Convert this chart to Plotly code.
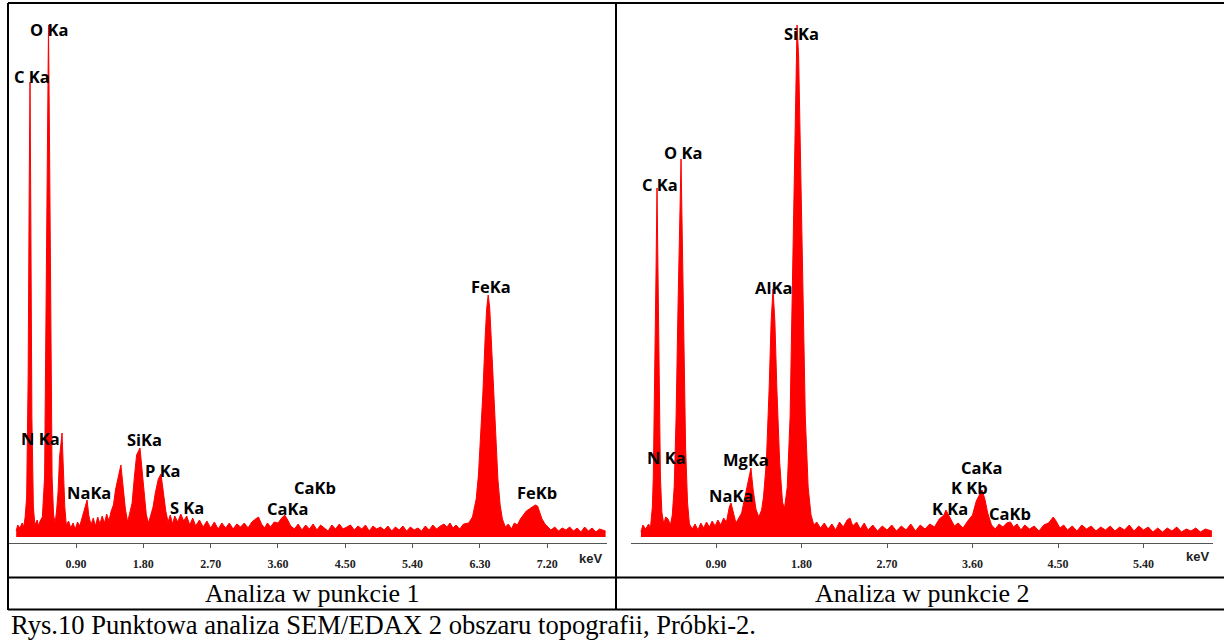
import plotly.graph_objects as go

W, H = 1224, 640

# ---------------- data ----------------
# Spectrum 1 (Analiza w punkcie 1): energy [keV] / intensity [a.u.]
energy_p1 = [0.10, 0.12, 0.15, 0.18, 0.20, 0.22, 0.24, 0.26, 0.275, 0.285, 0.295, 0.31, 0.33, 0.35, 0.38, 0.40,
             0.42, 0.45, 0.48, 0.505, 0.52, 0.532, 0.545, 0.56, 0.58, 0.60, 0.62, 0.64, 0.66, 0.68, 0.695, 0.713,
             0.73, 0.75, 0.77, 0.80, 0.83, 0.86, 0.89, 0.92, 0.95, 0.98, 1.01, 1.048, 1.07, 1.10, 1.13, 1.16,
             1.19, 1.22, 1.25, 1.28, 1.31, 1.34, 1.37, 1.40, 1.43, 1.46, 1.50, 1.53, 1.56, 1.59, 1.62, 1.65,
             1.68, 1.71, 1.755, 1.78, 1.81, 1.84, 1.87, 1.90, 1.93, 1.96, 2.00, 2.036, 2.07, 2.10, 2.13, 2.16,
             2.19, 2.22, 2.26, 2.30, 2.34, 2.38, 2.42, 2.46, 2.50, 2.55, 2.60, 2.65, 2.70, 2.75, 2.80, 2.85,
             2.90, 2.95, 3.00, 3.05, 3.10, 3.15, 3.20, 3.25, 3.30, 3.34, 3.38, 3.42, 3.46, 3.50, 3.55, 3.60,
             3.65, 3.69, 3.73, 3.77, 3.82, 3.87, 3.92, 3.97, 4.02, 4.07, 4.12, 4.17, 4.22, 4.27, 4.32, 4.37,
             4.42, 4.47, 4.52, 4.57, 4.62, 4.67, 4.72, 4.77, 4.82, 4.87, 4.92, 4.97, 5.02, 5.07, 5.12, 5.17,
             5.22, 5.27, 5.32, 5.37, 5.42, 5.47, 5.52, 5.57, 5.62, 5.67, 5.72, 5.77, 5.82, 5.86, 5.90, 5.94,
             5.98, 6.03, 6.08, 6.15, 6.20, 6.25, 6.28, 6.31, 6.34, 6.37, 6.39, 6.41, 6.43, 6.45, 6.48, 6.51,
             6.54, 6.57, 6.60, 6.64, 6.68, 6.72, 6.76, 6.80, 6.84, 6.88, 6.92, 6.96, 7.00, 7.04, 7.07, 7.10,
             7.13, 7.17, 7.21, 7.25, 7.30, 7.35, 7.40, 7.45, 7.50, 7.55, 7.60, 7.65, 7.70, 7.75, 7.80, 7.85,
             7.90, 7.98]
counts_p1 = [6, 12, 9, 14, 10, 20, 40, 160, 360, 455, 330, 120, 30, 12, 17, 11,
             16, 20, 60, 250, 400, 512, 400, 220, 60, 22, 14, 26, 45, 80, 95, 104,
             70, 30, 12, 16, 9, 14, 8, 15, 11, 19, 25, 37, 22, 12, 19, 11,
             20, 13, 21, 14, 23, 16, 26, 32, 48, 60, 72, 50, 28, 15, 24, 34,
             60, 82, 89, 70, 42, 22, 14, 21, 30, 44, 58, 63, 40, 26, 15, 22,
             13, 21, 15, 23, 16, 21, 12, 19, 11, 17, 10, 16, 9, 15, 8, 14,
             9, 14, 8, 13, 10, 14, 9, 15, 18, 20, 13, 9, 14, 10, 15, 14,
             19, 22, 17, 11, 8, 13, 7, 12, 8, 13, 7, 12, 9, 6, 12, 8,
             13, 8, 10, 12, 7, 11, 8, 12, 6, 11, 8, 10, 7, 11, 6, 10,
             7, 11, 6, 10, 7, 9, 6, 11, 7, 12, 8, 11, 13, 10, 14, 9,
             12, 8, 13, 14, 20, 38, 62, 100, 145, 200, 228, 242, 230, 200, 148, 98,
             58, 32, 18, 10, 13, 8, 14, 12, 18, 22, 26, 28, 30, 32, 31, 24,
             18, 13, 10, 7, 10, 6, 9, 7, 10, 6, 9, 5, 10, 6, 9, 5,
             8, 6]

# Spectrum 2 (Analiza w punkcie 2)
energy_p2 = [0.11, 0.13, 0.16, 0.19, 0.21, 0.23, 0.24, 0.255, 0.268, 0.279, 0.29, 0.30, 0.315, 0.33, 0.35, 0.37,
             0.395, 0.42, 0.44, 0.46, 0.48, 0.50, 0.515, 0.532, 0.545, 0.56, 0.58, 0.60, 0.62, 0.65, 0.68, 0.71,
             0.74, 0.77, 0.80, 0.83, 0.86, 0.89, 0.92, 0.95, 0.98, 1.01, 1.04, 1.058, 1.08, 1.11, 1.14, 1.17,
             1.20, 1.23, 1.268, 1.29, 1.32, 1.35, 1.38, 1.40, 1.43, 1.46, 1.48, 1.50, 1.52, 1.54, 1.57, 1.60,
             1.62, 1.65, 1.68, 1.70, 1.72, 1.74, 1.753, 1.77, 1.79, 1.81, 1.84, 1.87, 1.90, 1.93, 1.96, 2.00,
             2.04, 2.08, 2.12, 2.16, 2.20, 2.24, 2.28, 2.31, 2.34, 2.38, 2.42, 2.46, 2.50, 2.55, 2.60, 2.65,
             2.70, 2.75, 2.80, 2.85, 2.90, 2.95, 3.00, 3.05, 3.10, 3.15, 3.20, 3.25, 3.30, 3.32, 3.36, 3.41,
             3.45, 3.50, 3.55, 3.60, 3.64, 3.68, 3.70, 3.73, 3.76, 3.80, 3.84, 3.88, 3.92, 3.96, 4.00, 4.03,
             4.07, 4.11, 4.15, 4.20, 4.25, 4.30, 4.35, 4.40, 4.45, 4.48, 4.52, 4.56, 4.60, 4.65, 4.70, 4.75,
             4.80, 4.85, 4.90, 4.95, 5.00, 5.05, 5.10, 5.15, 5.20, 5.25, 5.30, 5.35, 5.40, 5.45, 5.50, 5.55,
             5.60, 5.65, 5.70, 5.75, 5.80, 5.85, 5.90, 5.95, 6.00, 6.05, 6.12]
counts_p2 = [5, 12, 8, 13, 9, 30, 60, 150, 260, 349, 250, 150, 60, 25, 13, 20,
             18, 12, 22, 50, 120, 230, 310, 378, 300, 200, 90, 35, 13, 8, 13, 7,
             14, 9, 15, 10, 16, 11, 17, 12, 19, 15, 30, 34, 24, 14, 19, 24,
             38, 52, 69, 48, 28, 20, 27, 40, 75, 150, 215, 248, 215, 150, 75, 35,
             28, 50, 120, 230, 350, 470, 512, 480, 380, 250, 120, 50, 22, 12, 15, 9,
             14, 8, 13, 7, 15, 10, 17, 19, 11, 15, 8, 14, 7, 12, 6, 11,
             7, 12, 6, 11, 7, 13, 6, 12, 8, 13, 10, 18, 22, 27, 20, 11,
             14, 9, 16, 22, 36, 44, 47, 38, 24, 12, 8, 13, 10, 14, 15, 10,
             13, 7, 12, 8, 11, 6, 12, 14, 20, 16, 9, 12, 7, 11, 6, 12,
             8, 11, 6, 10, 7, 11, 6, 10, 7, 12, 6, 11, 7, 10, 5, 9,
             5, 9, 6, 10, 5, 8, 6, 9, 5, 8, 6]

# axis ticks
tick_vals_p1 = [0.90, 1.80, 2.70, 3.60, 4.50, 5.40, 6.30, 7.20]
tick_text_p1 = ["0.90", "1.80", "2.70", "3.60", "4.50", "5.40", "6.30", "7.20"]
tick_vals_p2 = [0.90, 1.80, 2.70, 3.60, 4.50, 5.40]
tick_text_p2 = ["0.90", "1.80", "2.70", "3.60", "4.50", "5.40"]

# peak labels (text, energy keV, intensity)
peak_names_p1 = ["O Ka", "C Ka", "N Ka", "SiKa", "P Ka", "NaKa", "S Ka", "CaKa", "CaKb", "FeKa", "FeKb"]
peak_kev_p1 = [0.539, 0.31, 0.42, 1.81, 2.06, 1.07, 2.38, 3.73, 4.10, 6.45, 7.06]
peak_int_p1 = [508, 461, 99, 98, 67, 45, 30, 29, 50, 251, 45]

peak_names_p2 = ["SiKa", "O Ka", "C Ka", "AlKa", "N Ka", "MgKa", "NaKa", "CaKa", "K Kb", "K Ka", "CaKb"]
peak_kev_p2 = [1.805, 0.55, 0.31, 1.51, 0.374, 1.216, 1.058, 3.69, 3.573, 3.363, 4.00]
peak_int_p2 = [504, 385, 353, 250, 80, 78, 42, 70, 50, 29, 24]

panel_titles = ["Analiza w punkcie 1", "Analiza w punkcie 2"]
figure_caption = "Rys.10 Punktowa analiza SEM/EDAX 2 obszaru topografii, Próbki-2."
x_unit = "keV"

# ---------------- layout helpers ----------------
def px(x):
    return x / W

def py(y):
    return 1 - y / H

RED = "#ff0000"
fig = go.Figure()
fig.add_trace(go.Scatter(x=energy_p1, y=counts_p1, mode="lines", fill="tozeroy",
                         line=dict(color=RED, width=1), fillcolor=RED,
                         xaxis="x", yaxis="y", hoverinfo="skip", showlegend=False))
fig.add_trace(go.Scatter(x=energy_p2, y=counts_p2, mode="lines", fill="tozeroy",
                         line=dict(color=RED, width=1), fillcolor=RED,
                         xaxis="x2", yaxis="y2", hoverinfo="skip", showlegend=False))

tickfont = dict(family="Liberation Serif", size=12, color="#222222", weight="bold")
xcommon = dict(showgrid=False, zeroline=False, showline=True, linecolor="#555555", linewidth=1,
               ticks="outside", ticklen=4, tickcolor="#555555", tickwidth=1, tickfont=tickfont,
               tickmode="array", ticklabelstandoff=6, fixedrange=True)
ydomain = [py(543), py(5)]
ycommon = dict(visible=False, showgrid=False, zeroline=False, range=[-6, 532], domain=ydomain)

fig.update_layout(
    width=W, height=H,
    margin=dict(l=0, r=0, t=0, b=0),
    paper_bgcolor="white", plot_bgcolor="white",
    xaxis=dict(domain=[px(8.7), px(8.7 + 8 * 74.8)], range=[0, 8],
               tickvals=tick_vals_p1, ticktext=tick_text_p1, anchor="y", **xcommon),
    yaxis=dict(anchor="x", **ycommon),
    xaxis2=dict(domain=[px(630.5), px(630.5 + 6.13 * 95)], range=[0, 6.13],
                tickvals=tick_vals_p2, ticktext=tick_text_p2, anchor="y2", **xcommon),
    yaxis2=dict(anchor="x2", **ycommon),
)

labfont = dict(family="Open Sans", size=16.5, color="black", weight="bold")
for names, kev, inten, xr, yr in [(peak_names_p1, peak_kev_p1, peak_int_p1, "x", "y"),
                                  (peak_names_p2, peak_kev_p2, peak_int_p2, "x2", "y2")]:
    for t, xv, yv in zip(names, kev, inten):
        fig.add_annotation(x=xv, y=yv, xref=xr, yref=yr, text=t, showarrow=False,
                           xanchor="center", yanchor="middle", font=labfont, borderpad=0)

unitfont = dict(family="Liberation Sans", size=13, color="#222222", weight="bold")
fig.add_annotation(x=px(590), y=py(558), xref="paper", yref="paper", text=x_unit, showarrow=False,
                   xanchor="center", yanchor="middle", font=unitfont)
fig.add_annotation(x=px(1197), y=py(556), xref="paper", yref="paper", text=x_unit, showarrow=False,
                   xanchor="center", yanchor="middle", font=unitfont)

capfont = dict(family="Liberation Serif", size=26, color="black")
fig.add_annotation(x=px(312), y=py(593), xref="paper", yref="paper", text=panel_titles[0],
                   showarrow=False, xanchor="center", yanchor="middle", font=capfont)
fig.add_annotation(x=px(922), y=py(593), xref="paper", yref="paper", text=panel_titles[1],
                   showarrow=False, xanchor="center", yanchor="middle", font=capfont)
fig.add_annotation(x=px(9), y=py(625), xref="paper", yref="paper", text=figure_caption,
                   showarrow=False, xanchor="left", yanchor="middle",
                   font=dict(family="Liberation Serif", size=26.6, color="black"))

# table borders
lw = 2
border = dict(color="black", width=lw)
for (x0, y0, x1, y1) in [(8, 3, 1224, 3), (8, 3, 8, 610), (616, 3, 616, 610),
                         (8, 577.5, 1224, 577.5), (8, 609.5, 1224, 609.5)]:
    fig.add_shape(type="line", xref="paper", yref="paper", x0=px(x0), y0=py(y0), x1=px(x1), y1=py(y1),
                  line=border)

fig.write_html("out.html")
